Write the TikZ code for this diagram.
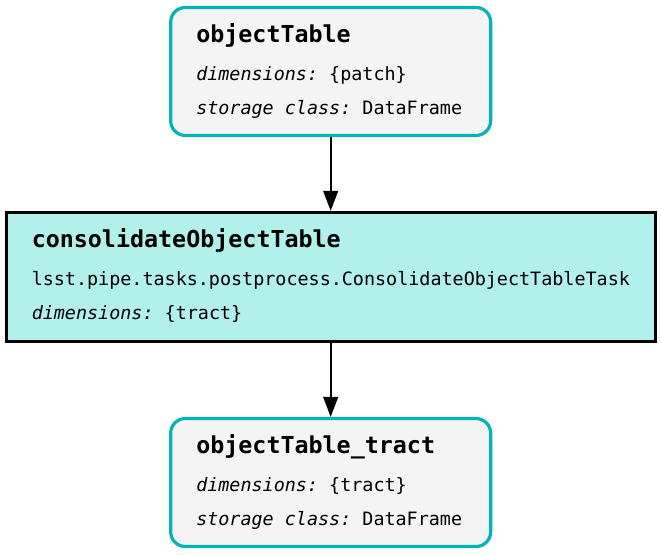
\documentclass[tikz,border=0pt]{standalone}
\usepackage{fontspec}
\setmonofont{DejaVu Sans Mono}
\usetikzlibrary{positioning, arrows.meta}
\definecolor{dsline}{RGB}{0,180,184}
\definecolor{dsfill}{RGB}{244,244,244}
\definecolor{taskfill}{RGB}{178,240,236}
\tikzset{->,>={Triangle[length=15pt,width=11pt]},
dataset/.style={draw=dsline, fill=dsfill, line width=2.4pt, rounded corners=11pt,
  minimum width=240pt, minimum height=96pt, inner sep=0pt},
task/.style={draw=black, fill=taskfill, line width=2.4pt,
  minimum width=486.75pt, minimum height=96.75pt, inner sep=0pt},
nodetitle/.style={anchor=base west, inner sep=0pt, font=\ttfamily\bfseries\fontsize{17.5}{20}\selectfont},
nodeinfo/.style={anchor=base west, inner sep=0pt, font=\ttfamily\fontsize{13.8}{16}\selectfont},
}

\begin{document}
\begin{tikzpicture}
    \useasboundingbox (0,0) rectangle (495.75pt,-416.25pt);

    \node[dataset] (obj) at (248pt,-53.6pt) {};
    \node[task] (cons) at (248pt,-207.75pt) {};
    \node[dataset] (objtract) at (248pt,-361.9pt) {};

    \node[nodetitle] (obj-name) at ([xshift=20.2pt,yshift=-27.75pt]obj.north west) {objectTable};
    \node[nodeinfo] (obj-dim) at ([yshift=-27.9pt]obj-name.base west) {\textit{dimensions:} \{patch\}};
    \node[nodeinfo] (obj-sc) at ([yshift=-25.5pt]obj-dim.base west) {\textit{storage class:} DataFrame};

    \node[nodetitle] (cons-name) at ([xshift=20.2pt,yshift=-27.75pt]cons.north west) {consolidateObjectTable};
    \node[nodeinfo] (cons-cls) at ([yshift=-28.2pt]cons-name.base west) {lsst.pipe.tasks.postprocess.ConsolidateObjectTableTask};
    \node[nodeinfo] (cons-dim) at ([yshift=-25.5pt]cons-cls.base west) {\textit{dimensions:} \{tract\}};

    \node[nodetitle] (objtract-name) at ([xshift=20.2pt,yshift=-27.75pt]objtract.north west) {objectTable\_tract};
    \node[nodeinfo] (objtract-dim) at ([yshift=-27.9pt]objtract-name.base west) {\textit{dimensions:} \{tract\}};
    \node[nodeinfo] (objtract-sc) at ([yshift=-25.5pt]objtract-dim.base west) {\textit{storage class:} DataFrame};

    \draw[line width=1.5pt]
    (obj) edge[] (cons)
    (cons) edge[] (objtract)
    ;
\end{tikzpicture}
\end{document}
